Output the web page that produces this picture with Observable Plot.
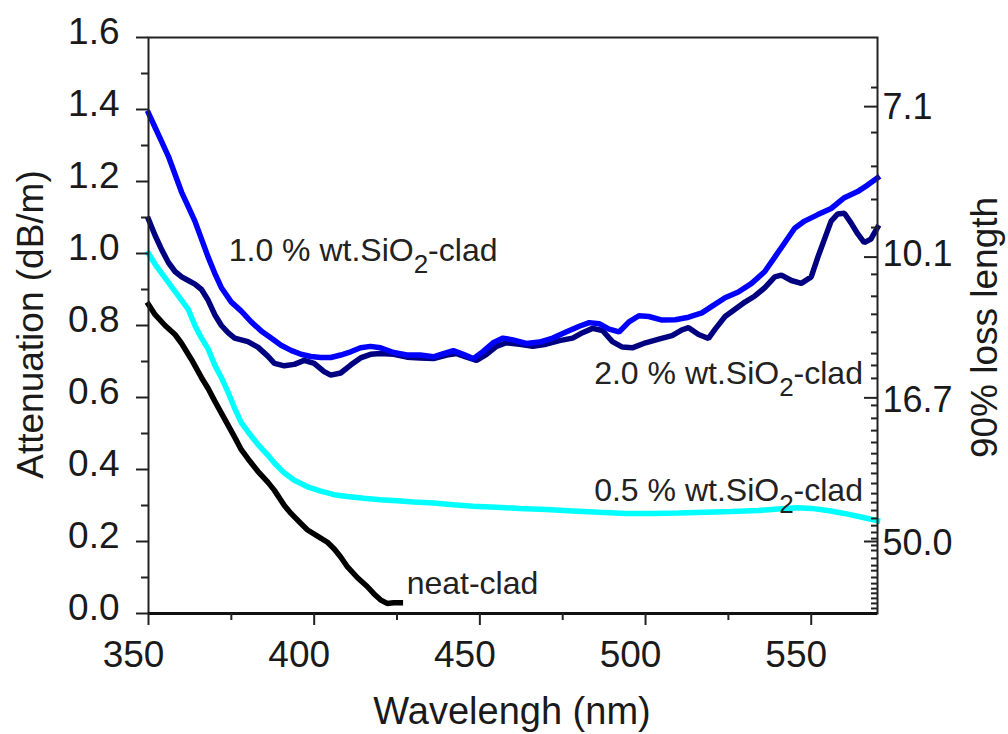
<!DOCTYPE html>
<html><head><meta charset="utf-8">
<script src="https://cdn.jsdelivr.net/npm/d3@7"></script>
<script src="https://cdn.jsdelivr.net/npm/@observablehq/plot@0.6"></script>
<style>body{margin:0;background:#fff}#chart{width:1008px;height:734px}</style>
</head><body><div id="chart"></div>
<script>
// ---- data ----
const seriesNames = ["neat-clad", "0.5 % wt.SiO2-clad", "2.0 % wt.SiO2-clad", "1.0 % wt.SiO2-clad"];
const seriesColors = ["#000000", "#00ffff", "#000080", "#0000ff"];

const wlNeat = [350,352,355,358,360,363,366,368,370,373,376,378,380,383,386,388,391,393,396,398,401,404,406,408,410,413,416,418,420,422,424,426];
const attNeat = [0.858,0.83,0.8,0.775,0.75,0.705,0.655,0.625,0.59,0.54,0.49,0.455,0.43,0.395,0.365,0.342,0.3,0.278,0.25,0.232,0.215,0.198,0.18,0.157,0.13,0.1,0.075,0.055,0.038,0.028,0.03,0.03];

const wl05 = [350,352,354,356,358,360,362,364,366,368,370,372,374,376,378,380,383,386,388,391,394,398,402,406,410,415,420,425,430,436,442,448,455,462,470,478,486,494,502,510,518,526,534,540,546,550,555,560,565,570];
const att05 = [1.0,0.97,0.945,0.92,0.895,0.87,0.845,0.80,0.765,0.735,0.69,0.655,0.615,0.57,0.53,0.505,0.47,0.44,0.418,0.39,0.37,0.352,0.34,0.33,0.325,0.32,0.316,0.313,0.31,0.307,0.302,0.298,0.295,0.292,0.289,0.285,0.281,0.278,0.278,0.279,0.281,0.283,0.286,0.29,0.294,0.292,0.286,0.278,0.268,0.258];

const wl20 = [350,352,354,356,358,360,362,364,366,368,370,372,374,376,378,380,383,386,388,391,394,397,400,403,405,408,411,414,417,420,424,428,432,436,440,443,446,449,452,455,458,462,466,470,474,478,481,484,487,490,493,496,500,504,508,511,513,516,519,521,524,527,530,533,536,539,541,544,547,550,552,554,556,558,560,562,564,566,568,570];
const att20 = [1.095,1.05,1.01,0.975,0.95,0.935,0.925,0.915,0.9,0.87,0.83,0.80,0.78,0.765,0.76,0.755,0.74,0.715,0.695,0.688,0.692,0.703,0.695,0.672,0.662,0.668,0.69,0.71,0.72,0.722,0.72,0.712,0.71,0.708,0.718,0.722,0.712,0.703,0.72,0.742,0.752,0.748,0.742,0.748,0.758,0.765,0.78,0.792,0.786,0.755,0.74,0.738,0.752,0.762,0.772,0.788,0.794,0.775,0.764,0.79,0.825,0.845,0.865,0.882,0.905,0.935,0.94,0.925,0.917,0.935,0.99,1.04,1.09,1.11,1.112,1.085,1.055,1.03,1.04,1.072];

const wl10 = [350,352,354,356,358,360,362,364,366,368,370,372,375,378,381,384,387,390,393,396,399,402,405,408,411,414,417,420,424,428,432,436,439,442,445,448,451,454,457,460,464,468,472,476,480,483,486,489,492,495,498,501,505,509,513,517,520,524,528,532,536,539,542,545,548,552,556,560,564,567,570];
const att10 = [1.39,1.35,1.31,1.27,1.22,1.17,1.13,1.09,1.04,0.99,0.945,0.905,0.865,0.84,0.81,0.785,0.765,0.745,0.731,0.72,0.714,0.711,0.711,0.718,0.727,0.738,0.742,0.738,0.725,0.718,0.718,0.713,0.722,0.73,0.72,0.708,0.728,0.752,0.765,0.76,0.75,0.754,0.765,0.782,0.798,0.808,0.805,0.79,0.782,0.81,0.827,0.825,0.815,0.816,0.823,0.835,0.853,0.877,0.893,0.917,0.95,0.99,1.03,1.07,1.09,1.108,1.125,1.155,1.172,1.19,1.21];

// axes ticks
const xMajor = [350, 400, 450, 500, 550];
const xMinor = [375, 425, 475, 525];
const yMajor = [0, 0.2, 0.4, 0.6, 0.8, 1.0, 1.2, 1.4, 1.6];
const yMinor = [0.1, 0.3, 0.5, 0.7, 0.9, 1.1, 1.3, 1.5];
// right axis "90% loss length": labels and tick positions (in attenuation units)
const rightLabels = ["7.1", "10.1", "16.7", "50.0"];
const rightLabelAtt = [1.408, 1.0, 0.594, 0.197];
const rightMajorAtt = [1.408, 0.99, 0.599, 0.2];
const rightMinorAtt = [1.461,1.336,1.242,1.15,1.072,0.942,0.881,0.831,0.781,0.722,0.689,0.653,0.578,0.542,0.508,0.475,0.444,0.417,0.389,0.361,0.333,0.308,0.286,0.264,0.244,0.225,0.208,0.189,0.175,0.153,0.133,0.119,0.1,0.083,0.069,0.056,0.042,0.028,0.014];

// curve labels
const curveLabels = ["1.0 % wt.SiO2-clad", "2.0 % wt.SiO2-clad", "0.5 % wt.SiO2-clad", "neat-clad"];
const labelWl = [374.2, 484.5, 484.5, 427.9];
const labelAtt = [1.008, 0.667, 0.342, 0.083];

// ---- build table ----
const rows = [];
function add(name, w, a) { w.forEach((x, i) => rows.push({series: name, wl: x, att: a[i]})); }
add(seriesNames[0], wlNeat, attNeat);
add(seriesNames[1], wl05, att05);
add(seriesNames[2], wl20, att20);
add(seriesNames[3], wl10, att10);
const labelRows = curveLabels.map((t, i) => ({t, wl: labelWl[i], att: labelAtt[i]}));

const ink = "#1a1a1a";
const font = "'Liberation Sans', Arial, sans-serif";

const chart = Plot.plot({
  width: 1008, height: 734,
  marginLeft: 148, marginRight: 131, marginTop: 37, marginBottom: 121,
  style: {fontFamily: font, background: "#fff", color: ink},
  x: {domain: [350, 570]},
  y: {domain: [0, 1.6]},
  color: {domain: seriesNames, range: seriesColors},
  marks: [
    Plot.line(rows, {x: "wl", y: "att", z: "series", stroke: "series", strokeWidth: 5.5, strokeLinejoin: "miter", strokeLinecap: "square"}),
    Plot.frame({stroke: "#222", strokeWidth: 2}),
    Plot.ruleY([0], {stroke: "#111", strokeWidth: 3}),
    // left axis
    Plot.axisY({ticks: yMajor, tickSize: 12, strokeWidth: 2, stroke: "#222", tickFormat: () => "", label: null}),
    Plot.axisY({ticks: yMinor, tickSize: 7, strokeWidth: 2, stroke: "#222", tickFormat: () => "", label: null}),
    Plot.axisY({ticks: yMajor, tickSize: 0, tickPadding: 29, fontSize: 37, dy: -5, fill: ink, tickFormat: d => d.toFixed(1), label: null}),
    // bottom axis
    Plot.axisX({ticks: xMajor, tickSize: 12, strokeWidth: 2, stroke: "#222", tickFormat: () => "", label: null}),
    Plot.axisX({ticks: xMinor, tickSize: 7, strokeWidth: 2, stroke: "#222", tickFormat: () => "", label: null}),
    Plot.axisX({ticks: xMajor, tickSize: 0, tickPadding: 27, fontSize: 37, dx: -15, fill: ink, tickFormat: d => String(d), label: null}),
    // right axis (inward ticks)
    Plot.axisY({anchor: "right", ticks: rightMajorAtt, tickSize: -14, strokeWidth: 2, stroke: "#222", tickFormat: () => "", label: null}),
    Plot.axisY({anchor: "right", ticks: rightMinorAtt, tickSize: -7, strokeWidth: 2, stroke: "#222", tickFormat: () => "", label: null}),
    Plot.axisY({anchor: "right", ticks: rightLabelAtt, tickSize: 0, tickPadding: 5, fontSize: 36, dy: 1, fill: ink, tickFormat: d => rightLabels[rightLabelAtt.indexOf(d)], label: null}),
    // axis titles
    Plot.text(["Wavelengh (nm)"], {frameAnchor: "bottom", text: d => d, dy: 98, dx: -1, fontSize: 38, fill: ink, textAnchor: "middle", lineAnchor: "middle"}),
    Plot.text(["Attenuation (dB/m)"], {frameAnchor: "left", text: d => d, rotate: -90, dx: -117, dy: -1, fontSize: 37, fill: ink, textAnchor: "middle", lineAnchor: "middle"}),
    Plot.text(["90% loss length"], {frameAnchor: "right", text: d => d, rotate: -90, dx: 108, dy: 2, fontSize: 37, fill: ink, textAnchor: "middle", lineAnchor: "middle"}),
    // curve labels
    Plot.text(labelRows, {x: "wl", y: "att", text: "t", textAnchor: "start", lineAnchor: "middle", fontSize: 32, fill: "#222"})
  ]
});
document.getElementById("chart").appendChild(chart);

// render "SiO2" with a real subscript
chart.querySelectorAll("text").forEach(el => {
  const s = el.textContent;
  const k = s.indexOf("SiO2");
  if (k < 0 || el.children.length) return;
  const ns = "http://www.w3.org/2000/svg";
  el.textContent = "";
  const a = document.createElementNS(ns, "tspan"); a.textContent = s.slice(0, k + 3);
  const b = document.createElementNS(ns, "tspan"); b.textContent = "2"; b.setAttribute("dy", "12"); b.setAttribute("font-size", "26");
  const c = document.createElementNS(ns, "tspan"); c.textContent = s.slice(k + 4); c.setAttribute("dy", "-12");
  el.append(a, b, c);
});
</script>
</body></html>
